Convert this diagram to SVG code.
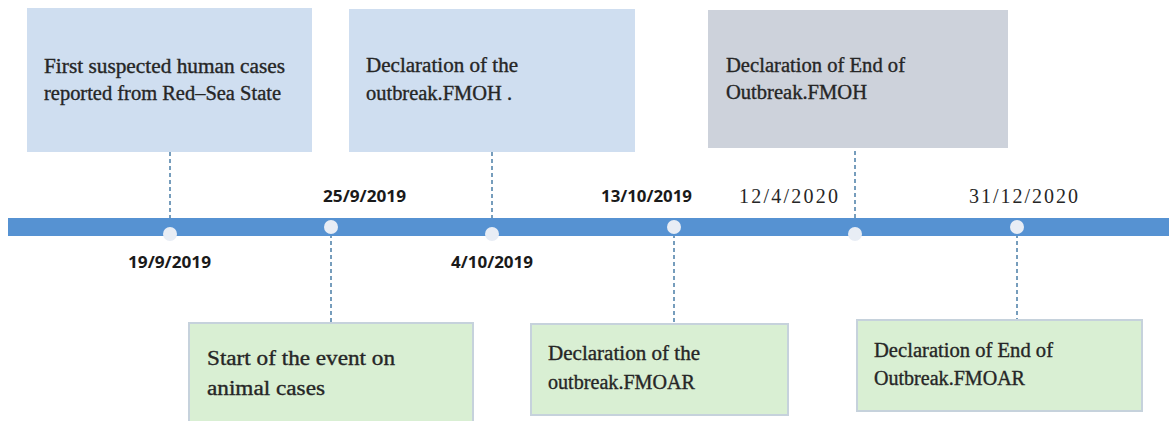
<svg xmlns="http://www.w3.org/2000/svg" width="1169" height="421" viewBox="0 0 1169 421">
<style>
.blue{fill:#cfdef0}
.gray{fill:#cdd2db}
.green{fill:#d9efd3;stroke:#c6d2dc;stroke-width:2}
.t{font-family:"Liberation Serif","DejaVu Serif",serif;font-size:20px;fill:#262626;stroke:#262626;stroke-width:0.35}
.d{font-family:"Open Sans","Liberation Sans",sans-serif;font-weight:bold;font-size:15.5px;fill:#1a1a1a}
.ds{font-family:"Liberation Serif","DejaVu Serif",serif;font-size:20px;fill:#262626;letter-spacing:2px}
.dash{stroke:#4a7ea6;stroke-width:1.5;stroke-dasharray:4 3;fill:none}
.dot{fill:#e8edf5}
</style>
<rect width="1169" height="421" fill="#ffffff"/>
<g id="connectors">
<line class="dash" x1="170" y1="138" x2="170" y2="220"/>
<line class="dash" x1="331" y1="234" x2="331" y2="323"/>
<line class="dash" x1="492" y1="138" x2="492" y2="220"/>
<line class="dash" x1="674" y1="234" x2="674" y2="323"/>
<line class="dash" x1="855" y1="137" x2="855" y2="220"/>
<line class="dash" x1="1017" y1="234" x2="1017" y2="320"/>
</g>
<g id="timeline">
<rect x="8" y="218" width="1161" height="18" fill="#5692d2"/>
<circle class="dot" cx="170" cy="234" r="7"/>
<circle class="dot" cx="331" cy="227" r="7"/>
<circle class="dot" cx="492" cy="234" r="7"/>
<circle class="dot" cx="674" cy="227" r="7"/>
<circle class="dot" cx="855" cy="234" r="7"/>
<circle class="dot" cx="1017" cy="227" r="7"/>
</g>
<g id="node-human-cases">
<rect class="blue" x="27" y="8" width="285" height="144"/>
<text class="t" x="44" y="73" textLength="241" lengthAdjust="spacingAndGlyphs">First suspected human  cases</text>
<text class="t" x="44" y="100" textLength="237" lengthAdjust="spacingAndGlyphs">reported from Red–Sea State</text>
</g>
<g id="node-declaration-fmoh">
<rect class="blue" x="349" y="9" width="286" height="143"/>
<text class="t" x="366" y="72" textLength="152" lengthAdjust="spacingAndGlyphs">Declaration of the</text>
<text class="t" x="366" y="100" textLength="146" lengthAdjust="spacingAndGlyphs">outbreak.FMOH .</text>
</g>
<g id="node-end-fmoh">
<rect class="gray" x="708" y="10" width="300" height="138"/>
<text class="t" x="726" y="72" textLength="179" lengthAdjust="spacingAndGlyphs">Declaration of End of</text>
<text class="t" x="726" y="99" textLength="141" lengthAdjust="spacingAndGlyphs">Outbreak.FMOH</text>
</g>
<g id="node-animal-cases">
<rect class="green" x="189" y="323" width="284" height="104"/>
<text class="t" x="207" y="365" textLength="188" lengthAdjust="spacingAndGlyphs">Start of the event on</text>
<text class="t" x="207" y="395" textLength="118" lengthAdjust="spacingAndGlyphs">animal cases</text>
</g>
<g id="node-declaration-fmoar">
<rect class="green" x="531" y="324" width="257" height="91"/>
<text class="t" x="548" y="360" textLength="152" lengthAdjust="spacingAndGlyphs">Declaration of the</text>
<text class="t" x="548" y="389" textLength="147" lengthAdjust="spacingAndGlyphs">outbreak.FMOAR</text>
</g>
<g id="node-end-fmoar">
<rect class="green" x="857" y="320" width="285" height="91"/>
<text class="t" x="874" y="357" textLength="179" lengthAdjust="spacingAndGlyphs">Declaration of End of</text>
<text class="t" x="874" y="385" textLength="151" lengthAdjust="spacingAndGlyphs">Outbreak.FMOAR</text>
</g>
<g id="dates">
<text class="d" x="128" y="268" textLength="83" lengthAdjust="spacingAndGlyphs">19/9/2019</text>
<text class="d" x="323" y="202" textLength="83" lengthAdjust="spacingAndGlyphs">25/9/2019</text>
<text class="d" x="451" y="268" textLength="82" lengthAdjust="spacingAndGlyphs">4/10/2019</text>
<text class="d" x="601" y="202" textLength="91" lengthAdjust="spacingAndGlyphs">13/10/2019</text>
<text class="ds" x="739" y="203" textLength="101" lengthAdjust="spacing">12/4/2020</text>
<text class="ds" x="969" y="203" textLength="111" lengthAdjust="spacing">31/12/2020</text>
</g>
</svg>
